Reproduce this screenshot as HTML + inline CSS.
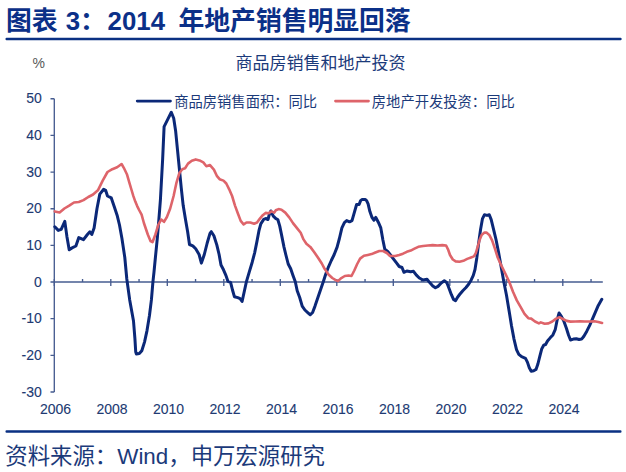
<!DOCTYPE html>
<html lang="zh-CN">
<head>
<meta charset="utf-8">
<title>图表 3：2014 年地产销售明显回落</title>
<style>
html,body{margin:0;padding:0;background:#fff;}
body{width:626px;height:472px;position:relative;overflow:hidden;font-family:"Liberation Sans",sans-serif;}
.yl{position:absolute;left:0;width:41.8px;text-align:right;font-size:14px;line-height:15px;color:#213a72;-webkit-text-stroke:0.1px #213a72;white-space:nowrap;}
.xl{position:absolute;top:401.5px;width:40px;text-align:center;font-size:14px;line-height:15px;color:#213a72;-webkit-text-stroke:0.1px #213a72;white-space:nowrap;}
.pc{position:absolute;left:32.6px;top:55.6px;font-size:14px;line-height:15px;color:#595959;}
.t{position:absolute;margin:0;color:transparent;white-space:nowrap;font-weight:normal;overflow:hidden;}
</style>
</head>
<body>
<svg width="626" height="472" viewBox="0 0 626 472" style="position:absolute;left:0;top:0">
<rect x="5.5" y="37.8" width="616.1" height="2.4" rx="1" fill="#0a3083"/>
<rect x="5.5" y="430.2" width="616" height="2.6" rx="1" fill="#0a3083"/>
<g fill="none" stroke="#465c90" stroke-width="1.35">
<path d="M54.30 98.75V391.95"/>
<path d="M54.30 282.00H602.80"/>
<path d="M54.30 278.90V286.00M82.55 278.90V282.00M110.80 278.90V286.00M139.05 278.90V282.00M167.30 278.90V286.00M195.55 278.90V282.00M223.80 278.90V286.00M252.05 278.90V282.00M280.30 278.90V286.00M308.55 278.90V282.00M336.80 278.90V286.00M365.05 278.90V282.00M393.30 278.90V286.00M421.55 278.90V282.00M449.80 278.90V286.00M478.05 278.90V282.00M506.30 278.90V286.00M534.55 278.90V282.00M562.80 278.90V286.00M591.05 278.90V282.00"/>
<path d="M50.50 391.95H54.30M50.50 355.30H54.30M50.50 318.65H54.30M50.50 282.00H54.30M50.50 245.35H54.30M50.50 208.70H54.30M50.50 172.05H54.30M50.50 135.40H54.30M50.50 98.75H54.30"/>
</g>
<polyline points="54.8,226.8 58.3,230.4 61.2,229.4 64.8,221.4 66.9,236.4 69.2,249.8 72.0,247.9 75.9,246.0 78.8,237.6 83.5,239.7 87.4,234.5 89.9,231.8 91.8,234.5 94.1,228.0 97.0,208.5 99.8,194.1 103.7,189.3 105.6,190.3 107.5,196.0 111.3,197.9 114.2,206.5 117.1,215.2 119.5,225.0 121.9,238.3 124.8,257.5 126.8,279.0 129.7,299.9 133.5,321.0 134.9,338.3 135.7,351.7 136.4,354.0 139.3,353.6 141.8,350.7 144.5,342.1 147.0,330.6 149.5,315.3 151.4,299.9 152.9,282.1 154.0,272.0 155.4,257.5 157.3,238.3 158.9,219.2 160.4,200.0 162.6,160.0 164.1,126.6 167.6,119.6 171.3,112.3 173.7,118.2 175.6,130.7 177.5,149.8 179.4,169.1 181.3,188.3 183.2,205.6 185.5,219.5 187.6,231.5 189.5,244.5 192.8,245.9 195.7,248.8 199.1,254.5 201.4,263.1 204.3,254.5 207.2,243.0 210.0,233.4 211.3,231.7 213.9,235.8 216.8,244.9 219.1,254.5 221.0,265.0 223.5,269.8 226.0,275.6 227.9,281.3 230.6,282.3 232.5,290.0 234.4,296.7 237.8,297.6 240.1,298.6 242.1,301.5 244.0,292.8 246.5,281.3 249.3,271.8 252.2,262.2 254.7,252.6 257.0,241.1 259.0,230.5 260.8,223.8 263.7,219.4 265.7,218.5 268.0,219.5 269.3,214.5 270.8,211.0 273.3,216.1 275.9,218.6 277.8,219.5 279.7,225.9 281.7,235.6 284.0,247.1 285.9,255.0 288.2,264.0 290.7,268.8 293.0,275.5 295.3,281.8 297.2,290.8 299.7,297.5 302.2,306.1 304.9,310.0 308.0,312.8 310.3,314.8 312.6,312.5 315.0,306.1 317.9,297.5 320.8,288.9 323.3,281.8 325.6,274.5 328.5,266.8 331.3,260.5 334.2,254.5 337.1,247.1 339.4,238.5 341.9,227.9 344.4,222.6 346.7,220.6 349.5,221.8 352.0,220.6 354.3,212.6 356.6,204.5 359.1,204.5 360.6,200.6 362.2,199.4 365.2,199.5 366.6,200.6 368.1,203.8 369.9,211.6 372.0,217.4 373.9,220.3 375.8,217.4 378.3,222.2 380.8,227.9 382.9,240.0 384.8,249.3 387.7,251.5 390.5,255.0 393.4,258.9 396.3,262.7 399.2,266.5 402.0,267.5 404.0,272.3 406.8,271.0 410.7,271.7 413.5,271.3 416.4,275.2 419.3,278.0 423.1,280.0 427.0,279.3 429.7,282.6 432.8,286.0 435.4,287.8 438.0,286.4 441.2,283.0 444.3,280.8 446.9,282.7 448.8,287.8 451.4,294.7 453.5,299.4 455.5,300.6 457.3,297.7 459.6,294.5 462.8,290.7 466.0,287.5 468.6,284.3 471.1,280.2 473.3,275.3 475.0,269.5 476.8,257.9 478.7,242.6 480.6,229.2 482.5,218.6 484.5,214.8 487.0,215.4 489.3,214.8 491.2,219.6 493.5,229.2 496.0,239.5 498.6,252.5 501.5,268.8 503.8,281.8 506.5,295.3 509.2,311.5 511.5,325.7 514.0,339.1 516.5,349.6 518.8,354.4 521.6,356.7 525.5,358.3 527.4,362.1 529.3,367.8 531.2,371.3 533.7,370.7 536.0,369.4 537.9,364.0 539.8,356.3 541.8,348.7 543.7,345.2 545.6,344.5 547.5,341.0 550.4,337.6 552.9,334.9 555.2,329.7 557.1,320.2 559.1,313.0 561.5,316.6 563.8,321.0 566.4,328.2 568.6,335.3 570.5,340.0 573.4,339.1 576.3,338.7 579.1,339.5 581.6,339.1 583.9,336.2 586.8,331.2 589.7,325.4 592.5,318.9 595.4,312.2 598.3,305.4 601.8,299.3" fill="none" stroke="#0b2878" stroke-width="3" stroke-linejoin="round" stroke-linecap="round"/>
<polyline points="54.8,211.4 59.6,212.4 64.4,208.5 69.2,205.7 74.0,202.5 78.8,202.0 83.5,200.1 88.3,197.0 93.1,194.5 97.9,190.3 102.7,180.7 107.5,172.0 112.3,169.2 117.1,167.3 121.6,164.0 123.8,167.8 126.9,174.2 129.5,183.1 131.4,189.5 133.3,195.9 135.3,201.6 137.2,206.1 139.1,210.0 141.6,214.6 143.9,223.0 147.8,234.5 150.6,241.2 152.5,242.2 155.4,234.5 158.3,224.9 161.2,219.5 164.0,221.8 166.9,217.0 170.2,208.5 173.6,196.0 176.5,182.6 179.4,173.0 182.3,169.2 185.1,168.2 188.0,163.6 191.8,160.7 195.7,159.4 199.5,160.4 203.3,162.4 206.4,166.2 210.0,165.1 213.9,169.6 216.8,175.8 219.6,179.2 223.5,180.6 226.3,183.5 229.2,189.3 232.1,196.0 235.0,205.6 237.8,213.3 240.7,220.9 243.6,224.4 246.5,222.5 250.3,222.5 254.1,223.8 257.0,222.5 259.9,218.6 262.8,215.2 265.6,212.9 268.5,213.3 271.4,211.4 274.3,212.6 275.8,210.3 278.6,209.1 281.5,209.7 285.3,212.6 289.2,217.4 293.0,223.1 296.8,227.9 300.7,232.7 303.5,239.4 306.4,243.8 310.3,246.9 314.1,252.0 317.9,257.5 321.8,263.5 324.6,268.8 328.5,274.5 332.3,278.0 336.1,280.3 338.0,281.2 340.9,278.3 344.8,276.0 348.6,275.5 351.5,276.0 354.3,270.5 357.2,264.0 360.1,258.6 363.9,255.7 367.8,254.9 371.6,254.1 375.4,252.5 379.3,251.0 383.1,251.0 386.9,253.0 390.0,256.0 391.5,256.0 395.3,256.0 399.2,255.0 403.0,253.7 406.8,251.8 410.7,250.6 414.5,248.7 418.3,246.8 423.1,246.0 427.9,245.5 432.7,245.1 437.5,245.5 442.3,245.1 446.1,245.5 448.0,249.3 450.0,255.0 452.8,259.5 455.7,261.4 459.5,261.8 463.4,260.8 467.2,258.9 471.0,257.5 473.9,256.4 475.8,253.1 477.8,246.4 479.7,239.7 481.6,234.9 484.5,232.6 486.4,232.6 489.3,234.9 492.1,240.3 495.0,248.8 497.7,257.5 501.5,265.9 505.3,273.5 509.2,281.8 513.0,291.8 516.8,300.4 520.7,307.1 524.5,313.8 528.3,318.2 531.2,318.6 535.0,321.5 538.9,323.4 540.8,322.4 544.6,323.8 548.5,323.4 552.3,321.5 556.1,318.6 559.4,317.2 562.8,319.0 566.7,320.9 570.5,321.6 575.3,321.5 580.1,321.2 584.9,321.5 589.7,321.5 594.5,321.3 598.3,322.0 602.1,323.0" fill="none" stroke="#de646a" stroke-width="2.6" stroke-linejoin="round" stroke-linecap="round"/>
<path d="M137.2 101.1H170.5" stroke="#0b2878" stroke-width="2.7" stroke-linecap="round" fill="none"/>
<path d="M335.4 101.1H368.6" stroke="#de646a" stroke-width="2.6" stroke-linecap="round" fill="none"/>
<text y="29.5" font-size="25.8" font-weight="bold" fill="#0b3088" style="font-family:'Liberation Sans','Noto Sans CJK SC',sans-serif"><tspan x="6">图表</tspan><tspan x="65.8">3</tspan><tspan x="80">：</tspan><tspan x="107.6">2014</tspan><tspan x="178.5">年地产销售明显回落</tspan></text>
<text x="235.5" y="69" font-size="17" fill="#1b3a7a" style="font-family:'Liberation Sans','Noto Sans CJK SC',sans-serif">商品房销售和地产投资</text>
<text x="174.2" y="107" font-size="14.3" fill="#1b3a7a" style="font-family:'Liberation Sans','Noto Sans CJK SC',sans-serif">商品房销售面积：同比</text>
<text x="371.8" y="107" font-size="14.3" fill="#1b3a7a" style="font-family:'Liberation Sans','Noto Sans CJK SC',sans-serif">房地产开发投资：同比</text>
<text x="5.3" y="464" font-size="22.4" fill="#1b3a7a" style="font-family:'Liberation Sans','Noto Sans CJK SC',sans-serif">资料来源：Wind，申万宏源研究</text>
</svg>
<h1 class="t" style="left:6px;top:6px;width:410px;height:30px;font-size:26px;line-height:30px;font-weight:bold">图表 3：2014 年地产销售明显回落</h1>
<div class="t" style="left:235px;top:53px;width:172px;height:20px;font-size:17px;line-height:20px">商品房销售和地产投资</div>
<div class="t" style="left:174px;top:93px;width:144px;height:17px;font-size:14.3px;line-height:17px">商品房销售面积：同比</div>
<div class="t" style="left:372px;top:93px;width:144px;height:17px;font-size:14.3px;line-height:17px">房地产开发投资：同比</div>
<div class="t" style="left:5px;top:443px;width:326px;height:27px;font-size:22.4px;line-height:27px">资料来源：Wind，申万宏源研究</div>
<div class="yl" style="top:384.6px">-30</div>
<div class="yl" style="top:347.9px">-20</div>
<div class="yl" style="top:311.2px">-10</div>
<div class="yl" style="top:274.6px">0</div>
<div class="yl" style="top:237.9px">10</div>
<div class="yl" style="top:201.3px">20</div>
<div class="yl" style="top:164.7px">30</div>
<div class="yl" style="top:128.0px">40</div>
<div class="yl" style="top:91.3px">50</div>
<div class="xl" style="left:35.5px">2006</div>
<div class="xl" style="left:92.0px">2008</div>
<div class="xl" style="left:148.5px">2010</div>
<div class="xl" style="left:205.0px">2012</div>
<div class="xl" style="left:261.5px">2014</div>
<div class="xl" style="left:318.0px">2016</div>
<div class="xl" style="left:374.5px">2018</div>
<div class="xl" style="left:431.0px">2020</div>
<div class="xl" style="left:487.5px">2022</div>
<div class="xl" style="left:544.0px">2024</div>
<div class="pc" style="">%</div>
</body>
</html>
